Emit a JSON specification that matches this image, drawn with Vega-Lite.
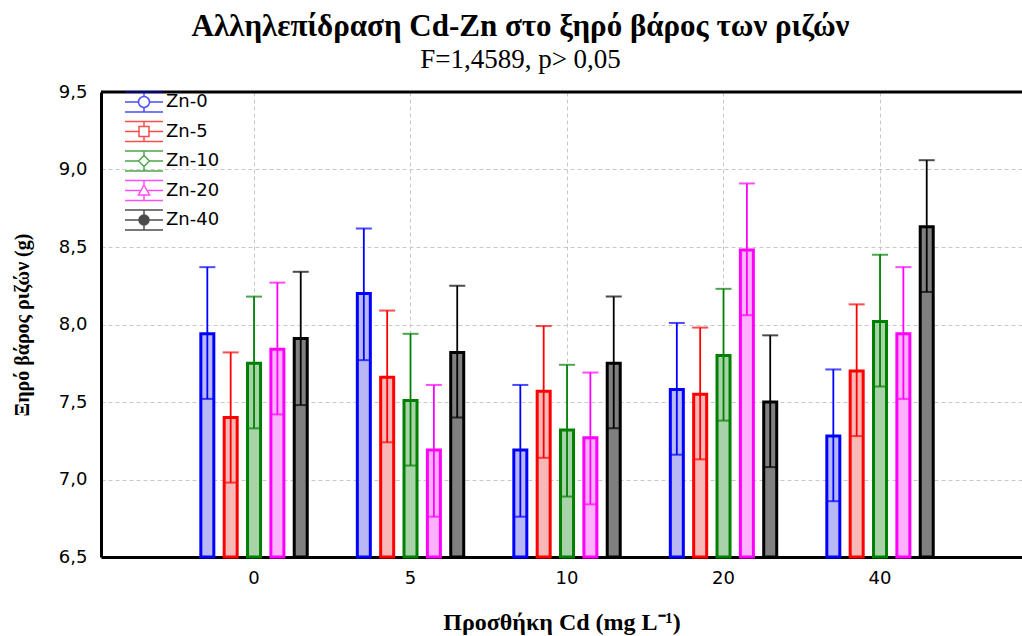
{
  "$schema": "https://vega.github.io/schema/vega-lite/v6.json",
  "autosize": {"type": "none"},
  "padding": {"left": 101, "top": 92, "right": 0, "bottom": 79},
  "width": 921,
  "height": 465,
  "background": "white",
  "config": {
    "view": {"stroke": null},
    "axis": {"gridColor": "#c8c8c8", "gridDash": [4, 3], "gridWidth": 1}
  },
  "title": {
    "text": "Αλληλεπίδραση Cd-Zn στο ξηρό βάρος των ριζών",
    "subtitle": "F=1,4589, p> 0,05",
    "font": "Liberation Serif",
    "fontSize": 31,
    "fontWeight": "bold",
    "color": "black",
    "subtitleFont": "Liberation Serif",
    "subtitleFontSize": 27,
    "subtitleColor": "black",
    "subtitlePadding": 4,
    "anchor": "middle",
    "dx": -41,
    "offset": 9
  },
  "data": {
    "values": [
      {"Cd": "0", "Zn": "Zn-0", "mean": 7.94, "lo": 7.52, "hi": 8.37},
      {"Cd": "0", "Zn": "Zn-5", "mean": 7.40, "lo": 6.98, "hi": 7.82},
      {"Cd": "0", "Zn": "Zn-10", "mean": 7.75, "lo": 7.33, "hi": 8.18},
      {"Cd": "0", "Zn": "Zn-20", "mean": 7.84, "lo": 7.42, "hi": 8.27},
      {"Cd": "0", "Zn": "Zn-40", "mean": 7.91, "lo": 7.48, "hi": 8.34},
      {"Cd": "5", "Zn": "Zn-0", "mean": 8.20, "lo": 7.77, "hi": 8.62},
      {"Cd": "5", "Zn": "Zn-5", "mean": 7.66, "lo": 7.24, "hi": 8.09},
      {"Cd": "5", "Zn": "Zn-10", "mean": 7.51, "lo": 7.09, "hi": 7.94},
      {"Cd": "5", "Zn": "Zn-20", "mean": 7.19, "lo": 6.76, "hi": 7.61},
      {"Cd": "5", "Zn": "Zn-40", "mean": 7.82, "lo": 7.40, "hi": 8.25},
      {"Cd": "10", "Zn": "Zn-0", "mean": 7.19, "lo": 6.76, "hi": 7.61},
      {"Cd": "10", "Zn": "Zn-5", "mean": 7.57, "lo": 7.14, "hi": 7.99},
      {"Cd": "10", "Zn": "Zn-10", "mean": 7.32, "lo": 6.89, "hi": 7.74},
      {"Cd": "10", "Zn": "Zn-20", "mean": 7.27, "lo": 6.84, "hi": 7.69},
      {"Cd": "10", "Zn": "Zn-40", "mean": 7.75, "lo": 7.33, "hi": 8.18},
      {"Cd": "20", "Zn": "Zn-0", "mean": 7.58, "lo": 7.16, "hi": 8.01},
      {"Cd": "20", "Zn": "Zn-5", "mean": 7.55, "lo": 7.13, "hi": 7.98},
      {"Cd": "20", "Zn": "Zn-10", "mean": 7.80, "lo": 7.38, "hi": 8.23},
      {"Cd": "20", "Zn": "Zn-20", "mean": 8.48, "lo": 8.06, "hi": 8.91},
      {"Cd": "20", "Zn": "Zn-40", "mean": 7.50, "lo": 7.08, "hi": 7.93},
      {"Cd": "40", "Zn": "Zn-0", "mean": 7.28, "lo": 6.86, "hi": 7.71},
      {"Cd": "40", "Zn": "Zn-5", "mean": 7.70, "lo": 7.28, "hi": 8.13},
      {"Cd": "40", "Zn": "Zn-10", "mean": 8.02, "lo": 7.60, "hi": 8.45},
      {"Cd": "40", "Zn": "Zn-20", "mean": 7.94, "lo": 7.52, "hi": 8.37},
      {"Cd": "40", "Zn": "Zn-40", "mean": 8.63, "lo": 8.21, "hi": 9.06}
    ]
  },
  "encoding": {
    "x": {
      "field": "Cd", "type": "nominal", "sort": ["0", "5", "10", "20", "40"],
      "scale": {"paddingInner": 0.254, "paddingOuter": 0.5695, "align": 0.531},
      "axis": {
        "title": "Προσθήκη Cd (mg L⁻¹)",
        "titleFont": "Liberation Serif", "titleFontSize": 24, "titleFontWeight": "bold", "titleColor": "black",
        "titleBaseline": "alphabetic", "titleY": 72,
        "labelFont": "DejaVu Sans", "labelFontSize": 18, "labelColor": "black", "labelAngle": 0, "labelPadding": 12,
        "domainColor": "black", "domainWidth": 3,
        "ticks": false, "grid": true, "bandPosition": 0.5
      }
    },
    "xOffset": {
      "field": "Zn", "type": "nominal", "sort": ["Zn-0", "Zn-5", "Zn-10", "Zn-20", "Zn-40"],
      "scale": {"paddingInner": 0.443, "paddingOuter": 0.2215}
    }
  },
  "layer": [
    {
      "mark": {"type": "bar", "strokeWidth": 3},
      "encoding": {
        "y": {
          "field": "mean", "type": "quantitative",
          "scale": {"domain": [6.5, 9.5], "nice": false, "zero": false},
          "axis": {
            "title": "Ξηρό βάρος ριζών (g)",
            "titleFont": "Liberation Serif", "titleFontSize": 20, "titleFontWeight": "bold", "titleColor": "black",
            "titleBaseline": "alphabetic", "titleX": -73, "titleY": 232.5, "titleAngle": -90,
            "values": [6.5, 7, 7.5, 8, 8.5, 9, 9.5],
            "labelExpr": "replace(format(datum.value, '.1f'), '.', ',')",
            "labelFont": "DejaVu Sans", "labelFontSize": 18, "labelColor": "black", "labelPadding": 14,
            "domainColor": "black", "domainWidth": 3,
            "ticks": false, "grid": true
          }
        },
        "y2": {"datum": 6.5},
        "fill": {
          "field": "Zn", "type": "nominal", "legend": null,
          "sort": ["Zn-0", "Zn-5", "Zn-10", "Zn-20", "Zn-40"],
          "scale": {"range": ["#b8b8f5", "#f7b8b8", "#a8d2a8", "#ffb0ff", "#808080"]}
        },
        "stroke": {
          "field": "Zn", "type": "nominal",
          "scale": {"domain": ["Zn-0", "Zn-5", "Zn-10", "Zn-20", "Zn-40"], "range": ["#0000ff", "#ff0000", "#008000", "#ff00ff", "#000000"]},
          "legend": {
            "title": null, "orient": "none", "legendX": 32, "legendY": -1,
            "padding": 0, "symbolSize": 400, "symbolStrokeWidth": 1.5,
            "symbolFillColor": "#ffffff",
            "labelFont": "DejaVu Sans", "labelFontSize": 18, "labelColor": "black",
            "labelOffset": 11, "rowPadding": 3.5
          }
        }
      }
    },
    {
      "mark": {"type": "rule", "strokeWidth": 1.8},
      "encoding": {
        "y": {"field": "lo", "type": "quantitative"},
        "y2": {"field": "hi"},
        "stroke": {"field": "Zn", "type": "nominal"}
      }
    },
    {
      "mark": {"type": "tick", "thickness": 2, "size": 16},
      "encoding": {
        "y": {"field": "hi", "type": "quantitative"},
        "color": {
          "field": "Zn", "type": "nominal", "legend": null,
          "sort": ["Zn-0", "Zn-5", "Zn-10", "Zn-20", "Zn-40"],
          "scale": {"range": ["#0000ff", "#ff0000", "#008000", "#ff00ff", "#000000"]}
        }
      }
    },
    {
      "mark": {"type": "tick", "thickness": 2, "size": 13},
      "encoding": {
        "y": {"field": "lo", "type": "quantitative"},
        "color": {"field": "Zn", "type": "nominal", "legend": null, "sort": ["Zn-0", "Zn-5", "Zn-10", "Zn-20", "Zn-40"]}
      }
    },
    {
      "transform": [{"filter": "datum.mean < 0"}],
      "mark": {"type": "point", "filled": false, "strokeWidth": 1.5},
      "encoding": {
        "y": {"field": "mean", "type": "quantitative"},
        "stroke": {"field": "Zn", "type": "nominal"},
        "shape": {
          "field": "Zn", "type": "nominal",
          "scale": {
            "domain": ["Zn-0", "Zn-5", "Zn-10", "Zn-20", "Zn-40"],
            "range": [
              "M-1.9,-1H1.9M-1.9,1H1.9M0,-1V-0.55M0,0.55V1M-1.9,0H-0.55M0.55,0H1.9M0.55,0A0.55,0.55 0 1,1 -0.55,0A0.55,0.55 0 1,1 0.55,0Z",
              "M-1.9,-1H1.9M-1.9,1H1.9M0,-1V-0.5M0,0.5V1M-1.9,0H-0.5M0.5,0H1.9M-0.5,-0.5H0.5V0.5H-0.5Z",
              "M-1.9,-1H1.9M-1.9,1H1.9M0,-1V-0.55M0,0.55V1M-1.9,0H-0.55M0.55,0H1.9M0,-0.55L0.55,0L0,0.55L-0.55,0Z",
              "M-1.9,-1H1.9M-1.9,1H1.9M0,-1V-0.55M0,0.45V1M-1.9,0H-0.3M0.3,0H1.9M0,-0.55L0.55,0.45H-0.55Z",
              "M-1.9,-1H1.9M-1.9,1H1.9M0,-1V-0.5M0,0.5V1M-1.9,0H-0.5M0.5,0H1.9M0.5,0A0.5,0.5 0 1,1 -0.5,0A0.5,0.5 0 1,1 0.5,0ZM0.36,0A0.36,0.36 0 1,1 -0.36,0A0.36,0.36 0 1,1 0.36,0ZM0.22,0A0.22,0.22 0 1,1 -0.22,0A0.22,0.22 0 1,1 0.22,0ZM0.09,0A0.09,0.09 0 1,1 -0.09,0A0.09,0.09 0 1,1 0.09,0Z"
            ]
          }
        }
      }
    },
    {
      "data": {"values": [{}]},
      "mark": {"type": "rule", "color": "black", "strokeWidth": 3},
      "encoding": {"y": {"datum": 9.5}, "x": null, "xOffset": null}
    }
  ]
}
